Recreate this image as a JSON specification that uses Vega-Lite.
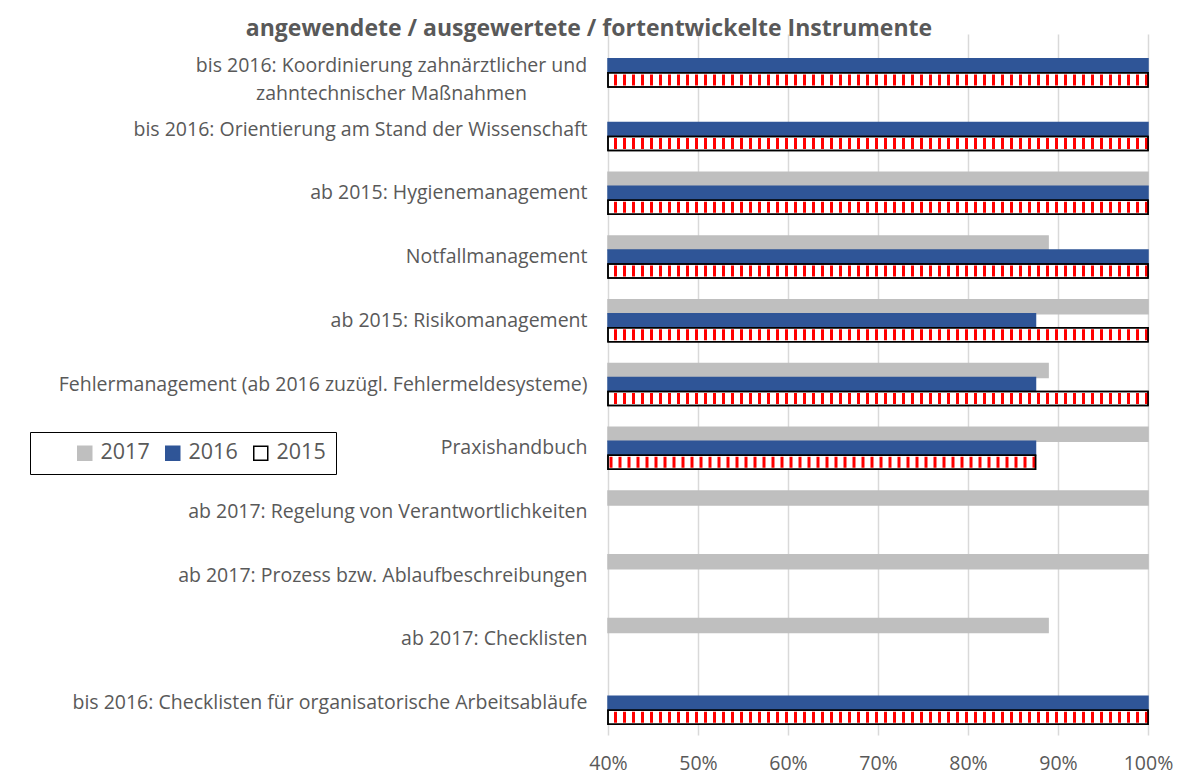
{
  "$schema": "https://vega.github.io/schema/vega-lite/v6.json",
  "width": 540,
  "height": 701,
  "autosize": {"type": "none"},
  "padding": {"left": 608, "top": 34, "right": 52, "bottom": 40},
  "background": "white",
  "title": {
    "text": "angewendete / ausgewertete / fortentwickelte Instrumente",
    "font": "Open Sans",
    "fontSize": 23,
    "fontWeight": "bold",
    "color": "#595959",
    "anchor": "middle",
    "dx": -289,
    "offset": -7
  },
  "config": {
    "view": {"stroke": null},
    "font": "Open Sans"
  },
  "data": {
    "values": [
      {"cat": "bis 2016: Koordinierung zahnärztlicher und|zahntechnischer Maßnahmen", "year": "2016", "value": 1},
      {"cat": "bis 2016: Koordinierung zahnärztlicher und|zahntechnischer Maßnahmen", "year": "2015", "value": 1},
      {"cat": "bis 2016: Orientierung am Stand der Wissenschaft", "year": "2016", "value": 1},
      {"cat": "bis 2016: Orientierung am Stand der Wissenschaft", "year": "2015", "value": 1},
      {"cat": "ab 2015: Hygienemanagement", "year": "2017", "value": 1},
      {"cat": "ab 2015: Hygienemanagement", "year": "2016", "value": 1},
      {"cat": "ab 2015: Hygienemanagement", "year": "2015", "value": 1},
      {"cat": "Notfallmanagement", "year": "2017", "value": 0.889},
      {"cat": "Notfallmanagement", "year": "2016", "value": 1},
      {"cat": "Notfallmanagement", "year": "2015", "value": 1},
      {"cat": "ab 2015: Risikomanagement", "year": "2017", "value": 1},
      {"cat": "ab 2015: Risikomanagement", "year": "2016", "value": 0.875},
      {"cat": "ab 2015: Risikomanagement", "year": "2015", "value": 1},
      {"cat": "Fehlermanagement (ab 2016 zuzügl. Fehlermeldesysteme)", "year": "2017", "value": 0.889},
      {"cat": "Fehlermanagement (ab 2016 zuzügl. Fehlermeldesysteme)", "year": "2016", "value": 0.875},
      {"cat": "Fehlermanagement (ab 2016 zuzügl. Fehlermeldesysteme)", "year": "2015", "value": 1},
      {"cat": "Praxishandbuch", "year": "2017", "value": 1},
      {"cat": "Praxishandbuch", "year": "2016", "value": 0.875},
      {"cat": "Praxishandbuch", "year": "2015", "value": 0.875},
      {"cat": "ab 2017: Regelung von Verantwortlichkeiten", "year": "2017", "value": 1},
      {"cat": "ab 2017: Prozess bzw. Ablaufbeschreibungen", "year": "2017", "value": 1},
      {"cat": "ab 2017: Checklisten", "year": "2017", "value": 0.889},
      {"cat": "bis 2016: Checklisten für organisatorische Arbeitsabläufe", "year": "2016", "value": 1},
      {"cat": "bis 2016: Checklisten für organisatorische Arbeitsabläufe", "year": "2015", "value": 1}
    ]
  },
  "encoding": {
    "y": {
      "field": "cat",
      "type": "nominal",
      "sort": null,
      "title": null,
      "scale": {"paddingInner": 0.34, "paddingOuter": 0.17},
      "axis": {
        "domain": false,
        "ticks": false,
        "grid": false,
        "labelLimit": 0,
        "labelFont": "Open Sans",
        "labelFontSize": 19.5,
        "labelColor": "#595959",
        "labelLineHeight": 28,
        "labelExpr": "split(datum.label, '|')",
        "labelAlign": {"condition": {"test": "indexof(datum.value, '|') >= 0", "value": "center"}, "value": "right"},
        "labelPadding": {"condition": {"test": "indexof(datum.value, '|') >= 0", "value": 217}, "value": 21}
      }
    },
    "yOffset": {
      "field": "year",
      "type": "nominal",
      "scale": {"domain": ["2017", "2016", "2015"], "paddingInner": 0, "paddingOuter": 0}
    }
  },
  "layer": [
    {
      "mark": {"type": "bar", "strokeWidth": 1.5},
      "encoding": {
        "x": {
          "field": "value",
          "type": "quantitative",
          "title": null,
          "scale": {"domain": [0.4, 1], "zero": false, "nice": false},
          "axis": {
            "values": [0.4, 0.5, 0.6, 0.7, 0.8, 0.9, 1],
            "format": ".0%",
            "domain": false,
            "ticks": false,
            "grid": true,
            "gridColor": "#d9d9d9",
            "gridWidth": 1.5,
            "labelFont": "Open Sans",
            "labelFontSize": 19.5,
            "labelColor": "#595959",
            "labelBaseline": "top",
            "labelPadding": 19,
            "labelFlush": false
          }
        },
        "x2": {"datum": 0.4},
        "color": {
          "field": "year",
          "type": "nominal",
          "scale": {"domain": ["2017", "2016", "2015"], "range": ["#bfbfbf", "#2f5597", "#ffffff"]},
          "legend": {
            "orient": "none",
            "legendX": -578,
            "legendY": 398,
            "direction": "horizontal",
            "title": " ",
            "titleOrient": "left",
            "titlePadding": 34,
            "titleFontSize": 10,
            "strokeColor": "black",
            "fillColor": "white",
            "padding": 10,
            "labelFont": "Open Sans",
            "labelFontSize": 21.5,
            "labelColor": "#595959",
            "symbolSize": 196,
            "symbolType": "square",
            "symbolStrokeWidth": 1.5,
            "columnPadding": 12,
            "labelOffset": 5
          }
        },
        "stroke": {
          "field": "year",
          "type": "nominal",
          "scale": {"domain": ["2017", "2016", "2015"], "range": ["#bfbfbf", "#2f5597", "#000000"]}
        }
      }
    },
    {
      "transform": [{"filter": "datum.year == '2015'"}],
      "mark": {"type": "rule", "stroke": "#ff0000", "strokeWidth": 11, "strokeDash": [3, 6], "strokeCap": "butt"},
      "encoding": {
        "x": {"field": "value", "type": "quantitative"},
        "x2": {"datum": 0.4}
      }
    },
    {
      "transform": [{"filter": "datum.year == '2015'"}],
      "mark": {"type": "bar", "fill": null, "fillOpacity": 0, "stroke": "#000000", "strokeWidth": 1.5},
      "encoding": {
        "x": {"field": "value", "type": "quantitative"},
        "x2": {"datum": 0.4}
      }
    }
  ]
}
